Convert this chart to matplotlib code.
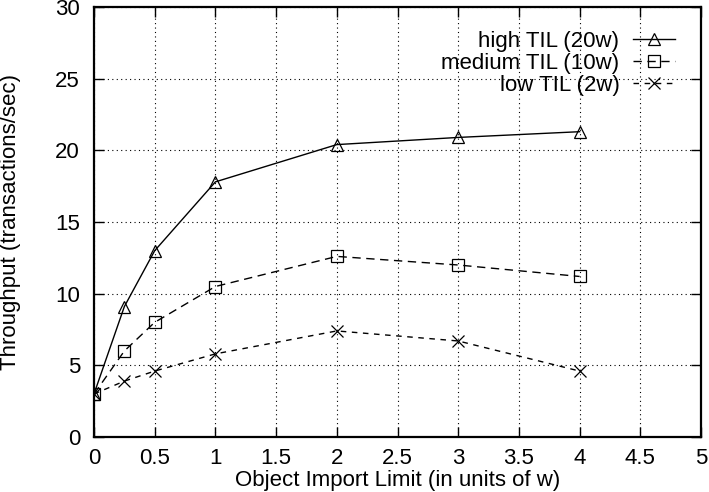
import matplotlib
matplotlib.use("Agg")
import matplotlib.pyplot as plt

x = [0, 0.25, 0.5, 1, 2, 3, 4]
high = [3, 9.1, 13.0, 17.8, 20.4, 20.9, 21.3]
medium = [3, 6.0, 8.0, 10.5, 12.6, 12.0, 11.2]
low = [3, 3.9, 4.6, 5.8, 7.4, 6.7, 4.6]
labels = ["high TIL (20w)", "medium TIL (10w)", "low TIL (2w)"]
xticks = [0, 0.5, 1, 1.5, 2, 2.5, 3, 3.5, 4, 4.5, 5]
yticks = [0, 5, 10, 15, 20, 25, 30]

plt.rcParams['font.family'] = ['Liberation Sans', 'DejaVu Sans']
fig = plt.figure(figsize=(7.09, 4.92), dpi=100)
L, R, T, B = 94, 701, 7, 437
ax = fig.add_axes([L/709, 1-B/492, (R-L)/709, (B-T)/492])

ax.plot(x, high, color='black', lw=1, ls='-', marker='^', ms=9, mfc='none', mec='black', mew=0.9, label=labels[0])
ax.plot(x, medium, color='black', lw=1, ls=(0, (6, 4)), marker='s', ms=8, mfc='none', mec='black', mew=0.9, label=labels[1])
ax.plot(x, low, color='black', lw=1, ls=(0, (4, 4)), marker='x', ms=9, mec='black', mew=0.9, label=labels[2])

ax.set_xlim(0, 5)
ax.set_ylim(0, 30)
ax.set_xticks(xticks)
ax.set_yticks(yticks)
ax.set_xticklabels([f"{t:g}" for t in xticks], fontsize=16)
ax.set_yticklabels([f"{t:g}" for t in yticks], fontsize=16)
ax.tick_params(direction='in', length=7, width=1, top=True, right=True)
ax.tick_params(axis='x', pad=8)
ax.tick_params(axis='y', pad=10)
ax.grid(True, ls=(0, (1, 3)), color='black', lw=0.8)
for s in ax.spines.values():
    s.set_linewidth(1.6)
ax.set_xlabel("Object Import Limit (in units of w)", fontsize=16)
ax.set_ylabel("Throughput (transactions/sec)", fontsize=16, va='center')
ax.xaxis.set_label_coords(0.5, -0.077)
ax.yaxis.set_label_coords((11 - L) / (R - L), 0.5)

leg = ax.legend(loc='upper right', bbox_to_anchor=((675 - L) / (R - L), (B - 31) / (B - T)),
                frameon=False, fontsize=16, markerfirst=False, handlelength=1.9,
                handletextpad=0.6, labelspacing=0.05, borderaxespad=0, borderpad=0)
fig.savefig("out.png", dpi=100)
